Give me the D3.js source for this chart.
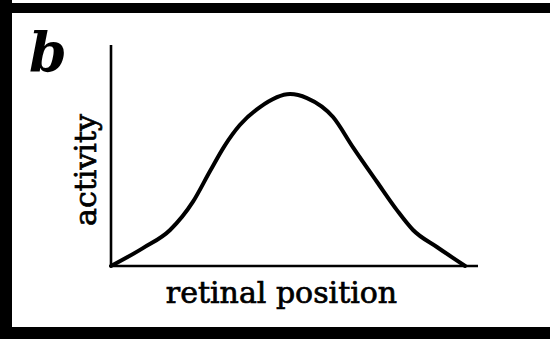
<!DOCTYPE html>
<html>
<head>
<meta charset="utf-8">
<script src="https://cdn.jsdelivr.net/npm/d3@7/dist/d3.min.js"></script>
<style>
  html, body { margin: 0; padding: 0; background: #fff; }
  svg { display: block; }
</style>
</head>
<body>
<svg id="chart" width="550" height="339"></svg>
<script>
// Response profile across the retina (arbitrary units)
const position = [0, 8.7, 16.1, 22.3, 27.0, 31.0, 35.1, 40.6, 48.8, 53.4, 60.5, 65.9, 72.5, 77.9, 82.3, 88.8, 96.5];
const activity = [0, 8.1, 16.3, 29.0, 43.0, 54.5, 63.8, 71.9, 77.8, 76.0, 67.4, 53.8, 38.0, 25.3, 16.3, 8.6, 0];

const panelLabel = "b";
const xTitle = "retinal position";
const yTitle = "activity";

const svg = d3.select("#chart");
const W = 550, H = 339;

// Panel frame: heavy black rules on the left, top and bottom
svg.append("rect").attr("x", 0).attr("y", 0).attr("width", W).attr("height", H).attr("fill", "#fff");
svg.append("rect").attr("x", 0).attr("y", 3).attr("width", W).attr("height", 10).attr("fill", "#000");
svg.append("rect").attr("x", 0).attr("y", 327).attr("width", W).attr("height", 12).attr("fill", "#000");
svg.append("rect").attr("x", 0).attr("y", 0).attr("width", 12).attr("height", H).attr("fill", "#000");

const x = d3.scaleLinear().domain([0, 100]).range([111, 478]);
const y = d3.scaleLinear().domain([0, 100]).range([266, 45]);

// Bare axes: a vertical and a horizontal rule, no ticks
svg.append("line")
  .attr("x1", x(0)).attr("x2", x(0))
  .attr("y1", y(100)).attr("y2", y(0) + 1)
  .attr("stroke", "#000").attr("stroke-width", 2.6);
svg.append("line")
  .attr("x1", x(0) - 1).attr("x2", x(100))
  .attr("y1", y(0)).attr("y2", y(0))
  .attr("stroke", "#000").attr("stroke-width", 2.6);

const pts = position.map((p, i) => [p, activity[i]]);
const line = d3.line()
  .x(d => x(d[0]))
  .y(d => y(d[1]))
  .curve(d3.curveMonotoneX);

svg.append("path")
  .datum(pts)
  .attr("d", line)
  .attr("fill", "none")
  .attr("stroke", "#000")
  .attr("stroke-width", 4)
  .attr("stroke-linejoin", "round")
  .attr("stroke-linecap", "round");

// Titles (slightly heavy, like letterpress)
const serif = "'DejaVu Serif', 'Liberation Serif', serif";
svg.append("text")
  .attr("x", 281.5).attr("y", 303)
  .attr("text-anchor", "middle")
  .attr("font-family", serif)
  .attr("font-size", 30)
  .attr("fill", "#000")
  .attr("stroke", "#000").attr("stroke-width", 0.7)
  .text(xTitle);

svg.append("text")
  .attr("transform", "translate(96,170) rotate(-90)")
  .attr("text-anchor", "middle")
  .attr("font-family", serif)
  .attr("font-size", 30)
  .attr("fill", "#000")
  .attr("stroke", "#000").attr("stroke-width", 0.7)
  .text(yTitle);

svg.append("text")
  .attr("x", 29).attr("y", 71)
  .attr("font-family", serif)
  .attr("font-weight", "bold")
  .attr("font-style", "italic")
  .attr("font-size", 54)
  .attr("fill", "#000")
  .text(panelLabel);
</script>
</body>
</html>
